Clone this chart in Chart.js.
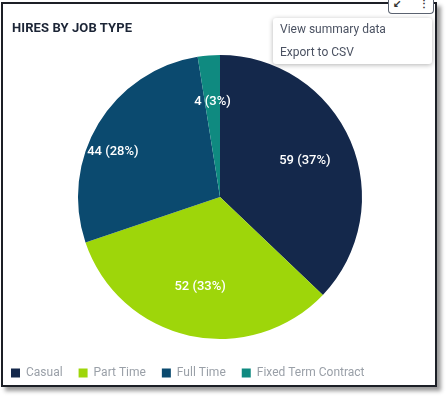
<!DOCTYPE html>
<html>
<head>
<meta charset="utf-8">
<script src="https://cdn.jsdelivr.net/npm/chart.js@4"></script>
<style>
  html, body { margin: 0; padding: 0; background: #fff; }
  body { width: 448px; height: 396px; position: relative; overflow: hidden; font-family: Roboto, sans-serif; }
  .frame { position: absolute; left: 1px; top: 2px; width: 432px; height: 381px; border: 2px solid #1c1f26; box-shadow: 4px 4px 4px rgba(0,0,0,0.4); background: #fff; }
  .title { position: absolute; left: 12px; top: 20px; font-size: 13px; font-weight: 700; color: #1c2536; letter-spacing: 0.1px; }
  #wrap { position: absolute; left: -5px; top: 4px; width: 450px; height: 385px; }
  .tools { position: absolute; left: 388px; top: 0px; width: 44px; height: 13px; border: 1px solid #5a6270; border-top: none; border-radius: 0 0 4px 4px; background: #fff; font-size: 10px; color: #333; }
  .menu { position: absolute; left: 273px; top: 18px; width: 159px; height: 46px; background: #fff; border-radius: 3px; box-shadow: 0 1px 5px rgba(0,0,0,0.3); font-size: 12px; color: #4b5262; }
  .menu div { position: absolute; left: 7px; }
</style>
</head>
<body>
<div class="frame"></div>
<div id="wrap"><canvas id="pie-chart"></canvas></div>
<div class="title">HIRES BY JOB TYPE</div>
<div class="tools"><span style="position:absolute;left:4px;top:-2px;font-weight:700;">&#8601;</span><span style="position:absolute;left:30px;top:-2px;font-weight:700;">&#8942;</span></div>
<div class="menu"><div style="top:4px;">View summary data</div><div style="top:27px;">Export to CSV</div></div>
<script>
const jobTypes = ['Casual', 'Part Time', 'Full Time', 'Fixed Term Contract'];
const hires = [59, 52, 44, 4];
const sliceColors = ['#14284b', '#9ed60a', '#0b4a6f', '#0f8a80'];

// label placement: fraction of radius, and angle nudge in degrees
const labelDist = [0.65, 0.65, 0.82, 0.67];
const labelNudge = [0, 0, -8, 0];

const sliceLabels = {
  id: 'sliceLabels',
  afterDatasetsDraw(chart) {
    const { ctx } = chart;
    const meta = chart.getDatasetMeta(0);
    const total = hires.reduce((a, b) => a + b, 0);
    ctx.save();
    ctx.font = '500 13px Roboto, sans-serif';
    ctx.fillStyle = '#ffffff';
    ctx.textAlign = 'center';
    ctx.textBaseline = 'middle';
    meta.data.forEach((arc, i) => {
      const { x, y, startAngle, endAngle, outerRadius } = arc.getProps(['x', 'y', 'startAngle', 'endAngle', 'outerRadius'], true);
      const mid = (startAngle + endAngle) / 2 + labelNudge[i] * Math.PI / 180;
      const r = outerRadius * labelDist[i];
      const pct = Math.round(hires[i] / total * 100);
      ctx.fillText(`${hires[i]} (${pct}%)`, x + Math.cos(mid) * r, y + Math.sin(mid) * r);
    });
    ctx.restore();
  },
};

new Chart(document.getElementById('pie-chart'), {
  type: 'pie',
  data: {
    labels: jobTypes,
    datasets: [{
      data: hires,
      backgroundColor: sliceColors,
      borderWidth: 0,
      radius: 142,
    }],
  },
  options: {
    responsive: true,
    maintainAspectRatio: false,
    animation: false,
    layout: { padding: { top: 39, bottom: 0, left: 0, right: 0 } },
    plugins: {
      tooltip: { enabled: false },
      legend: {
        position: 'bottom',
        align: 'start',
        labels: {
          boxWidth: 9,
          boxHeight: 9,
          padding: 16,
          color: '#9aa0a8',
          font: { family: 'Roboto, sans-serif', size: 12 },
        },
      },
    },
  },
  plugins: [sliceLabels],
});
</script>
</body>
</html>
